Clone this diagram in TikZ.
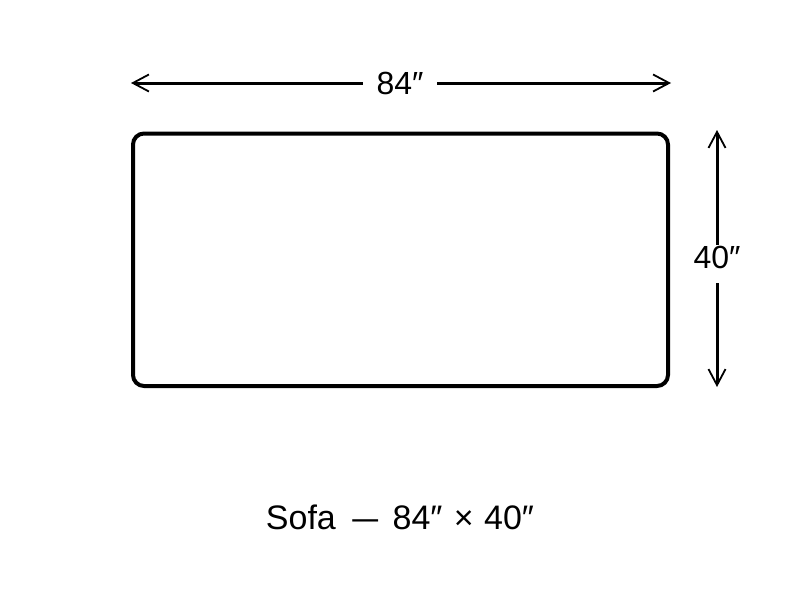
\documentclass[tikz,border=0pt]{standalone}
\usepackage{fontspec}
\setmainfont{Liberation Sans}
\usetikzlibrary{arrows.meta}
\begin{document}
\begin{tikzpicture}[x=1pt,y=-1pt,
  sofabox/.style={draw=black,line width=4pt,rounded corners=11pt,inner sep=0pt,outer sep=0pt},
  dimline/.style={draw=black,line width=3pt,-{Straight Barb[length=16pt,width=17pt,line width=1.8pt]}},
  dimlabel/.style={fill=white,inner sep=0pt,font=\fontsize{32}{38}\selectfont},
  titlelabel/.style={inner sep=0pt,font=\fontsize{34}{40}\selectfont}]
\useasboundingbox (0,0) rectangle (800,600);
\fill[white] (0,0) rectangle (800,600);
% sofa outline
\node[sofabox, minimum width=535pt, minimum height=252.5pt, anchor=north west] (sofa) at (133,133.5) {};
% width dimension
\coordinate (hl) at (131,83);
\coordinate (hr) at (671,83);
\node[dimlabel, minimum width=74pt] (w) at (400,83) {84″};
\draw[dimline] (w) -- (hl);
\draw[dimline] (w) -- (hr);
% depth dimension
\coordinate (vt) at (717,130);
\coordinate (vb) at (717,387);
\node[dimlabel, text height=20pt, text depth=11pt, inner ysep=3.5pt] (h) at (717,264) {40″};
\draw[dimline] (h) -- (vt);
\draw[dimline] (h) -- (vb);
% title
\node[titlelabel] (t) at (400,517.5) {Sofa \hspace{7pt}\scalebox{0.76}[1]{—}\hspace{5pt} 84″\hspace{2pt} × \hspace{1pt}40″};
\end{tikzpicture}
\end{document}
